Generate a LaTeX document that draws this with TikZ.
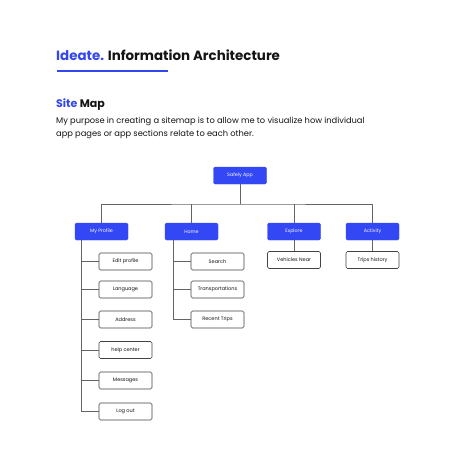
\documentclass[tikz,border=0pt]{standalone}
\usepackage{fontspec}
\setmainfont{Poppins}
\definecolor{accent}{RGB}{51,71,240}
\definecolor{boxblue}{RGB}{51,71,245}
\definecolor{linegray}{RGB}{100,100,100}
\definecolor{textdark}{RGB}{20,20,20}
\begin{document}
\begin{tikzpicture}[x=1pt,y=-1pt,
  bluebox/.style={draw=boxblue,fill=boxblue,rounded corners=1.5pt,minimum width=53pt,minimum height=17pt,inner sep=0pt,text=white,font=\fontsize{4.8}{5}\selectfont},
  leafbox/.style={draw=textdark!80,fill=white,line width=0.6pt,rounded corners=1.5pt,minimum width=53pt,minimum height=17pt,inner sep=0pt,text=textdark,font=\fontsize{5}{6}\selectfont},
  conn/.style={draw=linegray,line width=0.8pt}]
\useasboundingbox[fill=white] (0,0) rectangle (474,451);
% header
\node[anchor=base west,inner sep=0pt,font=\fontsize{13.4}{16}\selectfont\bfseries] (title) at (56,60) {\textcolor{accent}{Ideate.} \textcolor{textdark}{Information Architecture}};
\draw[accent,line width=1.3pt] (57,71) -- (168,71);
\node[anchor=base west,inner sep=0pt,font=\fontsize{11}{13}\selectfont\bfseries] (site) at (56,107) {\textcolor{accent}{Site} \textcolor{textdark}{Map}};
\node[anchor=base west,inner sep=0pt,font=\fontsize{8.3}{10}\selectfont,text=textdark] (l1) at (56,123.5) {My purpose in creating a sitemap is to allow me to visualize how individual};
\node[anchor=base west,inner sep=0pt,font=\fontsize{8.3}{10}\selectfont,text=textdark] (l2) at (56,136) {app pages or app sections relate to each other.};
% root
\node[bluebox] (root) at (240,175.5) {Safely App};
\node[bluebox] (prof) at (101.5,231.5) {My Profile};
\node[bluebox] (home) at (191.5,231.5) {Home};
\node[bluebox] (expl) at (294,231.5) {Explore};
\node[bluebox] (act) at (372.5,231.5) {Activity};
\coordinate (bus) at (240,204);
\draw[conn] (root.south) -- (bus);
\draw[conn] (prof.north) |- (bus) -| (act.north);
\draw[conn] (home.north) -- (home.north |- bus);
\draw[conn] (expl.north) -- (expl.north |- bus);
% profile children
\node[leafbox] (e1) at (125.5,261.5) {Edit profile};
\node[leafbox] (e2) at (125.5,289.5) {Language};
\node[leafbox] (e3) at (125.5,319.5) {Address};
\node[leafbox] (e4) at (125.5,350) {help center};
\node[leafbox] (e5) at (125.5,380.5) {Messages};
\node[leafbox] (e6) at (125.5,411.5) {Log out};
\coordinate (pv) at (81,240);
\draw[conn] (pv) |- (e6.west);
\foreach \n in {e1,e2,e3,e4,e5} \draw[conn] (\n.west) -- (\n.west -| pv);
% home children
\node[leafbox] (h1) at (217.5,261.5) {Search};
\node[leafbox] (h2) at (217.5,289.5) {Transportations};
\node[leafbox] (h3) at (217.5,319.5) {Recent Trips};
\coordinate (hv) at (173,240);
\draw[conn] (hv) |- (h3.west);
\foreach \n in {h1,h2} \draw[conn] (\n.west) -- (\n.west -| hv);
% explore / activity children
\node[leafbox] (x1) at (294,260) {Vehicles Near};
\node[leafbox] (a1) at (372.5,260) {Trips history};
\draw[conn] (expl.south) -- (x1.north);
\draw[conn] (act.south) -- (a1.north);
\end{tikzpicture}
\end{document}
